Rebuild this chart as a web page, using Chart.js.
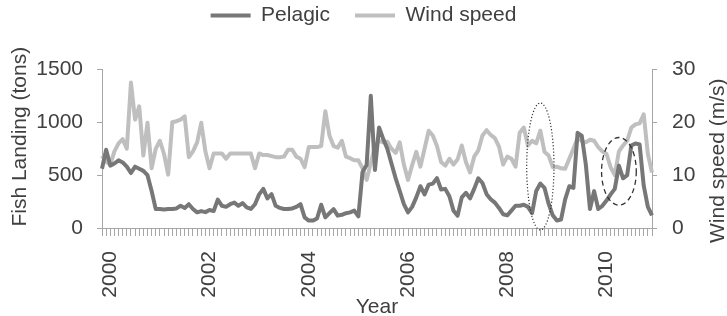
<!DOCTYPE html>
<html>
<head>
<meta charset="utf-8">
<title>Pelagic landing and wind speed</title>
<script src="https://cdn.jsdelivr.net/npm/chart.js@4.4.0/dist/chart.umd.min.js"></script>
<style>
  html, body { margin: 0; padding: 0; background: #fff; }
  #wrap { width: 727px; height: 316px; }
</style>
</head>
<body>
<div id="wrap"><canvas id="chart" width="727" height="316"></canvas></div>
<script>
// Monthly values, the first point is Nov 1999
var pelagic = [
    560, 740, 590, 610, 640, 620, 580, 520, 580, 560, 540, 500,
    350, 179, 180, 175, 180, 180, 185, 210, 190, 225, 180, 148,
    160, 150, 170, 160, 268, 210, 200, 225, 240, 210, 235, 195,
    180, 225, 318, 370, 280, 320, 210, 190, 180, 179, 185, 200,
    225, 100, 70, 70, 90, 220, 100, 140, 179, 117, 125, 140,
    148, 164, 110, 530, 596, 1250, 549, 950, 843, 750, 610, 472,
    350, 225, 148, 200, 290, 395, 318, 410, 420, 472, 364, 370,
    300, 164, 117, 290, 333, 280, 370, 470, 426, 320, 272, 240,
    190, 130, 120, 164, 210, 210, 220, 200, 140, 350, 420, 380,
    230, 120, 71, 80, 270, 395, 380, 900, 874, 600, 180, 349,
    180, 210, 260, 318, 370, 590, 470, 500, 780, 800, 790, 400,
    200, 120
];
var windSpeed = [
    13.7, 12.5, 12, 14.5, 16, 16.8, 15, 27.5, 20.5, 23, 13.7, 19.9,
    11.3, 15, 16.5, 14, 10.1, 20, 20.2, 20.5, 21.1, 13.4, 14.5, 16.2,
    19.9, 14.5, 11.3, 14.1, 14.1, 14.1, 13.1, 14.1, 14.1, 14.1, 14.1, 14.1,
    14.1, 11.3, 14.1, 13.8, 13.8, 13.6, 13.4, 13.4, 13.5, 14.8, 14.8, 13.5,
    13.1, 11.5, 15.3, 15.3, 15.3, 15.5, 22.1, 17.5, 15.5, 15.2, 16.5, 13.5,
    13.2, 12.8, 12.8, 11.3, 9.1, 12.3, 15.5, 16.5, 16.2, 16.3, 15, 14.2,
    16.2, 12, 9.1, 11.9, 14.4, 11.6, 15, 18.4, 17.5, 15.5, 12.5, 11.8,
    13.1, 12, 13, 15.6, 12.5, 10.5, 13.5, 14.7, 17.5, 18.5, 17.6, 17,
    15.4, 12, 13.5, 13.1, 11.6, 18, 19, 15.6, 16.5, 16, 18.4, 14.4,
    13.7, 11.5, 11.6, 11.3, 11.2, 13.1, 15, 17, 16.5, 16.2, 16.7, 16.5,
    15.3, 14.5, 14, 11.5, 10, 14.5, 15.6, 16.5, 19, 19.6, 19.8, 21.5,
    14, 10.5
];
var yearTicks = ['2000', '2002', '2004', '2006', '2008', '2010'];
var fishTicks = [0, 500, 1000, 1500];
var windTicks = [0, 5, 10, 15, 20, 25, 30];

// the two rings drawn on the chart (centre month, tons, half width in months, half height in tons)
var ringMonths = ['2008-09', '2010-04'];
var ringTons = [582, 536];
var ringHalfMonths = [3.3, 4.2];
var ringHalfTons = [600, 320];

// category labels yyyy-mm
var months = [];
for (var i = 0; i < pelagic.length; i++) {
    var m = 10 + i;
    months.push((1999 + Math.floor(m / 12)) + '-' + ('0' + (m % 12 + 1)).slice(-2));
}

var textColor = '#404040';
var axisColor = '#a6a6a6';
var fontFamily = '"Liberation Sans", Arial, sans-serif';
var font = {family: fontFamily, size: 21};

// cac vong elip danh dau
var ringPlugin = {
    id: 'rings',
    afterDatasetsDraw: function (chart) {
        var x = chart.scales.x, y = chart.scales.y, ctx = chart.ctx;
        ringMonths.forEach(function (mon, k) {
            var idx = months.indexOf(mon);
            var cx = x.getPixelForValue(idx);
            var rx = x.getPixelForValue(idx + ringHalfMonths[k]) - cx;
            var cy = y.getPixelForValue(ringTons[k]);
            var ry = cy - y.getPixelForValue(ringTons[k] + ringHalfTons[k]);
            ctx.save();
            ctx.strokeStyle = '#333';
            ctx.lineWidth = k === 0 ? 1.2 : 1.3;
            ctx.setLineDash(k === 0 ? [1.2, 2] : [5, 3.5]);
            ctx.beginPath();
            ctx.ellipse(cx, cy, rx, ry, 0, 0, Math.PI * 2);
            ctx.stroke();
            ctx.restore();
        });
    }
};

// tieu de truc doc (ca hai deu xoay 270 do)
var sideTitles = {
    id: 'sideTitles',
    afterDraw: function (chart) {
        var ctx = chart.ctx, area = chart.chartArea;
        var mid = (area.top + area.bottom) / 2;
        var items = [
            {text: 'Fish Landing (tons)', x: chart.scales.y.left + 20, y: mid - 12},
            {text: 'Wind speed (m/s)', x: chart.scales.y1.right - 9, y: mid + 12}
        ];
        ctx.save();
        ctx.font = '21px ' + fontFamily;
        ctx.fillStyle = textColor;
        ctx.textAlign = 'center';
        ctx.textBaseline = 'middle';
        items.forEach(function (t) {
            ctx.save();
            ctx.translate(t.x, t.y);
            ctx.rotate(-Math.PI / 2);
            ctx.fillText(t.text, 0, 0);
            ctx.restore();
        });
        ctx.restore();
    }
};

new Chart(document.getElementById('chart'), {
    type: 'line',
    data: {
        labels: months,
        datasets: [{
                label: 'Pelagic',
                data: pelagic,
                borderColor: '#777777',
                backgroundColor: '#777777',
                borderWidth: 4,
                pointRadius: 0,
                tension: 0,
                borderJoinStyle: 'round',
                yAxisID: 'y'
            }, {
                label: 'Wind speed',
                data: windSpeed,
                borderColor: '#bfbfbf',
                backgroundColor: '#bfbfbf',
                borderWidth: 4,
                pointRadius: 0,
                tension: 0,
                borderJoinStyle: 'round',
                yAxisID: 'y1'
            }]
    },
    options: {
        responsive: false,
        animation: false,
        layout: {padding: {top: -20, left: 0, right: 0, bottom: 0}},
        plugins: {
            legend: {
                position: 'top',
                labels: {
                    usePointStyle: true,
                    pointStyle: 'line',
                    pointStyleWidth: 40,
                    padding: 25,
                    color: textColor,
                    font: font
                }
            },
            // khoang trong giua chu thich va vung ve
            title: {display: true, text: '', weight: 500, padding: {top: 0, bottom: 19}, font: {size: 12}},
            tooltip: {enabled: false}
        },
        scales: {
            x: {
                offset: false,
                grid: {display: true, drawOnChartArea: false, tickLength: 8, color: axisColor},
                border: {color: axisColor},
                ticks: {
                    autoSkip: false,
                    maxRotation: 90,
                    minRotation: 90,
                    padding: 15,
                    color: textColor,
                    font: font,
                    callback: function (value, index) {
                        var lab = months[index];
                        if (lab.slice(5) === '01' && yearTicks.indexOf(lab.slice(0, 4)) > -1)
                            return lab.slice(0, 4);
                        return '';
                    }
                },
                title: {display: true, text: 'Year', color: textColor, font: font, padding: {top: 0, bottom: -4}},
                afterFit: function (s) { s.height = 88; }
            },
            y: {
                position: 'left',
                min: 0,
                max: 1500,
                grid: {drawOnChartArea: false, tickLength: 5, color: axisColor},
                border: {color: axisColor},
                ticks: {
                    padding: 14,
                    color: textColor,
                    font: font,
                    callback: function (v) { return String(v); }
                },
                afterBuildTicks: function (s) { s.ticks = fishTicks.map(function (v) { return {value: v}; }); },
                afterFit: function (s) { s.width = 102; }
            },
            y1: {
                position: 'right',
                min: 0,
                max: 30,
                grid: {drawOnChartArea: false, tickLength: 5, color: axisColor},
                border: {color: axisColor},
                ticks: {padding: 15, color: textColor, font: font},
                afterBuildTicks: function (s) { s.ticks = windTicks.map(function (v) { return {value: v}; }); },
                afterFit: function (s) { s.width = 75; }
            }
        }
    },
    plugins: [ringPlugin, sideTitles]
});
</script>
</body>
</html>
